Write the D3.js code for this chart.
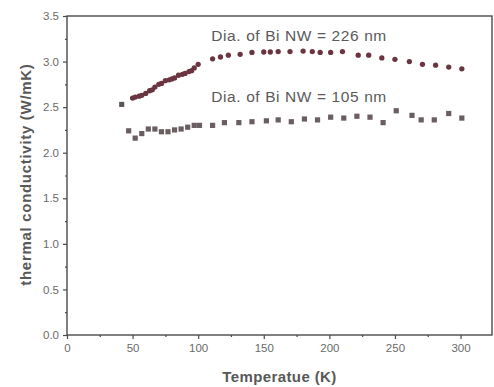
<!DOCTYPE html>
<html>
<head>
<meta charset="utf-8">
<script src="https://cdn.jsdelivr.net/npm/d3@7"></script>
<style>
  body { margin: 0; background: #fff; }
  svg { display: block; }
</style>
</head>
<body>
<svg id="chart"></svg>
<script>
// Dia. of Bi NW = 226 nm
const tempThick = [41.7, 50, 52, 55, 57, 60, 63, 65, 67, 70, 72, 75, 78, 80, 82, 85, 88, 90, 93, 95, 97, 100,
                   111, 117, 123, 132, 141, 150, 155, 161, 170, 180, 187, 193, 201, 210, 222, 230, 240, 250, 261, 271, 281, 291, 301];
const condThick = [2.53, 2.60, 2.61, 2.62, 2.63, 2.65, 2.68, 2.69, 2.72, 2.75, 2.76, 2.79, 2.80, 2.81, 2.82, 2.85, 2.86, 2.87, 2.89, 2.90, 2.93, 2.97,
                   3.03, 3.05, 3.07, 3.08, 3.10, 3.105, 3.105, 3.11, 3.11, 3.115, 3.11, 3.10, 3.10, 3.11, 3.07, 3.07, 3.04, 3.025, 3.00, 2.97, 2.96, 2.94, 2.92];

// Dia. of Bi NW = 105 nm
const tempThin = [47, 52, 57, 62, 67, 72, 77, 82, 87, 92, 97, 101,
                  111, 120, 131, 141, 152, 161, 171, 181, 191, 201, 211, 221, 231, 241, 251, 263, 270, 280, 291, 301];
const condThin = [2.24, 2.16, 2.21, 2.26, 2.26, 2.23, 2.23, 2.25, 2.26, 2.28, 2.30, 2.30,
                  2.30, 2.33, 2.33, 2.34, 2.35, 2.36, 2.34, 2.37, 2.36, 2.39, 2.38, 2.40, 2.39, 2.33, 2.46, 2.41, 2.36, 2.36, 2.43, 2.38];

const xTicks = [0, 50, 100, 150, 200, 250, 300];
const yTicks = [0.0, 0.5, 1.0, 1.5, 2.0, 2.5, 3.0, 3.5];
const labels = ["Dia. of Bi NW = 226 nm", "Dia. of Bi NW = 105 nm"];

const width = 494, height = 387;
const margin = {left: 67, right: 2, top: 16, bottom: 52};

const svg = d3.select("#chart").attr("width", width).attr("height", height);

const x = d3.scaleLinear().domain([0, 324]).range([margin.left, width - margin.right]);
const y = d3.scaleLinear().domain([0, 3.5]).range([height - margin.bottom, margin.top]);

const axisColor = "#4a4a4a";
const textColor = "#585858";
const font = "Liberation Sans, Arial, sans-serif";

// frame
svg.append("rect")
    .attr("x", x(0)).attr("y", y(3.5))
    .attr("width", x(324) - x(0)).attr("height", y(0) - y(3.5))
    .attr("fill", "none").attr("stroke", axisColor).attr("stroke-width", 1.4);

// x axis
svg.append("g").attr("transform", `translate(0,${y(0)})`)
    .call(d3.axisBottom(x).tickValues(xTicks).tickFormat(d3.format("d")).tickSize(4).tickPadding(5));
svg.append("g").attr("transform", `translate(0,${y(0)})`)
    .call(d3.axisBottom(x).tickValues(d3.range(25, 324, 50)).tickFormat("").tickSize(2));

// y axis
svg.append("g").attr("transform", `translate(${x(0)},0)`)
    .call(d3.axisLeft(y).tickValues(yTicks).tickFormat(d3.format(".1f")).tickSize(4).tickPadding(4));
svg.append("g").attr("transform", `translate(${x(0)},0)`)
    .call(d3.axisLeft(y).tickValues(d3.range(0.25, 3.5, 0.5)).tickFormat("").tickSize(2));

svg.selectAll(".domain").remove();
svg.selectAll(".tick line").attr("stroke", axisColor).attr("stroke-width", 1.2);
svg.selectAll(".tick text")
    .attr("fill", "#6a6a6a")
    .attr("font-family", font)
    .attr("font-size", "11.5px");

// axis titles
svg.append("text")
    .attr("x", x(162)).attr("y", 382)
    .attr("text-anchor", "middle")
    .attr("font-family", font)
    .attr("font-weight", "bold").attr("font-size", "15px")
    .attr("letter-spacing", "0.4px")
    .attr("fill", textColor)
    .text("Temperatue (K)");

svg.append("text")
    .attr("transform", `translate(31,${y(1.76)}) rotate(-90)`)
    .attr("text-anchor", "middle")
    .attr("font-family", font)
    .attr("font-weight", "bold").attr("font-size", "15px")
    .attr("letter-spacing", "0.7px")
    .attr("fill", textColor)
    .text("thermal conductivity (W/mK)");

// series
const thick = tempThick.map((t, i) => ({t: t, k: condThick[i], i: i}));
const thin = tempThin.map((t, i) => ({t: t, k: condThin[i]}));

svg.append("g").selectAll("path")
    .data(thick).enter()
    .append("path")
    .attr("transform", d => `translate(${x(d.t)},${y(d.k)})`)
    .attr("d", d => d3.symbol().type(d.i === 0 ? d3.symbolSquare : d3.symbolCircle).size(d.i === 0 ? 26 : 22)())
    .attr("fill", d => d.i === 0 ? "#5e5458" : "#6a3440");

svg.append("g").selectAll("rect")
    .data(thin).enter()
    .append("rect")
    .attr("x", d => x(d.t) - 2.6)
    .attr("y", d => y(d.k) - 2.6)
    .attr("width", 5.2).attr("height", 5.2)
    .attr("fill", "#6a5e60");

// annotations
svg.selectAll("text.note")
    .data(labels).enter()
    .append("text")
    .attr("class", "note")
    .attr("x", x(110))
    .attr("y", (d, i) => i === 0 ? 41 : 102)
    .attr("font-family", font)
    .attr("font-size", "15.5px")
    .attr("letter-spacing", "0.6px")
    .attr("fill", "#5a5a5a")
    .text(d => d);
</script>
</body>
</html>
